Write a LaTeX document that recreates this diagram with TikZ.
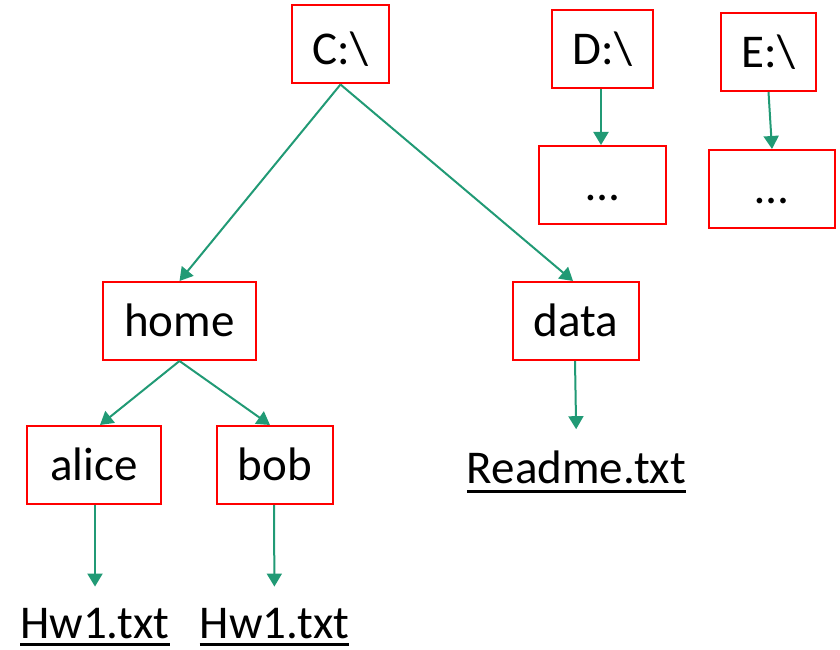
\documentclass[tikz,border=0pt]{standalone}
\usepackage{fontspec}
\setmainfont{Carlito}
\usetikzlibrary{arrows.meta}
\definecolor{linkgreen}{RGB}{33,154,117}
\definecolor{boxred}{RGB}{255,0,0}
\newcommand\treefont{\fontsize{47}{56}\selectfont}
\tikzset{
  x=1pt, y=1pt,
  every node/.style={font=\treefont, text=black},
  folder/.style={draw=boxred, line width=2pt, minimum height=78pt,
    text height=31pt, text depth=0pt, inner sep=3pt},
  fileitem/.style={inner sep=0pt, anchor=base},
  link/.style={draw=linkgreen, line width=2pt,
    -{Triangle[length=13pt,width=15pt]}},
  tofile/.style={link, shorten >=21pt},
  uline/.style={line width=2.5pt, black}
}
\begin{document}
\begin{tikzpicture}
\useasboundingbox (0,0) rectangle (840,-650);

% drives
\node[folder, minimum width=97pt, text height=41pt] (c) at (340.5,-44.5) {C:\textbackslash};
\node[folder, minimum width=101pt] (d) at (602.5,-49) {D:\textbackslash};
\node[folder, minimum width=127pt] (dsub) at (602.5,-185) {…};
\node[folder, minimum width=95pt] (e) at (768.5,-52) {E:\textbackslash};
\node[folder, minimum width=126pt, text height=28pt] (esub) at (772,-189) {…};

% folders
\node[folder, minimum width=153pt] (home) at (179.5,-321) {home};
\node[folder, minimum width=126pt] (data) at (576,-321) {data};
\node[folder, minimum width=134pt] (alice) at (94,-465) {alice};
\node[folder, minimum width=116pt] (bob) at (275,-465) {bob};

% files
\node[fileitem] (readme) at (576.5,-483) {Readme.txt};
\node[fileitem] (hwa) at (95,-638) {Hw1.txt};
\node[fileitem] (hwb) at (274.5,-638) {Hw1.txt};

\draw[uline] ([yshift=-8.5pt]readme.base west) -- ([yshift=-8.5pt]readme.base east);
\draw[uline] ([yshift=-6.5pt]hwa.base west) -- ([yshift=-6.5pt]hwa.base east);
\draw[uline] ([yshift=-6.5pt]hwb.base west) -- ([yshift=-6.5pt]hwb.base east);

% links
\draw[link] (c.south) -- (home.north);
\draw[link] (c.south) -- ([xshift=-3pt]data.north);
\draw[link] ([xshift=-1.5pt]d.south) -- ([xshift=-1.5pt]dsub.north);
\draw[link] (e.south) -- (esub.north);
\draw[link] (home.south) -- ([xshift=6pt]alice.north);
\draw[link] (home.south) -- ([xshift=-5pt]bob.north);
\draw[tofile] ([xshift=1pt]alice.south) -- (hwa.north);
\draw[tofile] ([xshift=-1pt]bob.south) -- (hwb.north);
\draw[tofile] ([xshift=-1pt]data.south) -- (readme.north);
\end{tikzpicture}
\end{document}
